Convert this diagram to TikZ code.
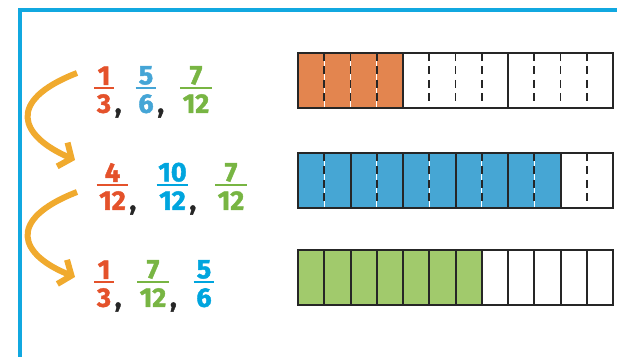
\documentclass[tikz,border=0pt]{standalone}
\usepackage{fontspec}
\setmainfont{Fira Sans}
\newfontfamily\numfont{Fira Sans}[FakeBold=1.6]
\usetikzlibrary{arrows.meta}

\definecolor{fracred}{HTML}{E4522B}
\definecolor{fracblue}{HTML}{45A5D6}
\definecolor{fraccyan}{HTML}{00A5DE}
\definecolor{fracgreen}{HTML}{78B543}
\definecolor{barorange}{HTML}{E3854F}
\definecolor{barblue}{HTML}{46A6D4}
\definecolor{bargreen}{HTML}{A1CA6C}
\definecolor{framecol}{HTML}{11A8E0}
\definecolor{arrowcol}{HTML}{F0AA2E}

\tikzset{
  digit/.style={font=\fontsize{27}{27}\selectfont\numfont\bfseries, inner xsep=2.5pt, inner ysep=0pt},
  comma/.style={font=\fontsize{27}{27}\selectfont\numfont\bfseries, anchor=base west, inner sep=0pt, text=black!85},
  swoop/.style={arrowcol, line width=6pt, -{Straight Barb[length=10pt,width=26pt]}},
  barline/.style={line width=2pt, draw=black!85},
  dashline/.style={line width=1.6pt, draw=black!85, dash pattern=on 8pt off 5.5pt},
}

% fraction: name, point of the bar, colour, numerator, denominator
\newcommand{\frc}[5]{%
  \coordinate (#1) at #2;
  \node[digit, text=#3, anchor=south] (#1n) at ([yshift=3pt]#1) {#4};
  \node[digit, text=#3, anchor=north] (#1d) at ([yshift=-6pt]#1) {#5};
  \draw[#3, line width=2.2pt] (#1d.west |- #1) -- (#1d.east |- #1);
}

\begin{document}
\begin{tikzpicture}[x=1pt,y=1pt]
    \useasboundingbox (0,0) rectangle (617,356);
    \draw[framecol, line width=4pt] (20,-5) -- (20,346) -- (625,346);   % frame

    % first bar: thirds, split in twelfths
    \fill[barorange] (298,248) rectangle ++(105,55);
    \foreach \i in {1,2,3} \draw[white, line width=1.4pt] ({298+26.25*\i},303) -- ++(0,-55);
    \foreach \i in {1,2,3,5,6,7,9,10,11} \draw[dashline] ({298+26.25*\i},303) -- ++(0,-55);
    \foreach \i in {4,8} \draw[barline] ({298+26.25*\i},303) -- ++(0,-55);
    \draw[barline, line width=2.5pt] (298,248) rectangle ++(315,55);

    % second bar: sixths, split in twelfths
    \fill[barblue] (298,148) rectangle ++(262.5,55);
    \foreach \i in {1,3,5,7,9} \draw[white, line width=1.4pt] ({298+26.25*\i},203) -- ++(0,-55);
    \foreach \i in {1,3,5,7,9,11} \draw[dashline] ({298+26.25*\i},203) -- ++(0,-55);
    \foreach \i in {2,4,6,8,10} \draw[barline] ({298+26.25*\i},203) -- ++(0,-55);
    \draw[barline, line width=2.5pt] (298,148) rectangle ++(315,55);

    % third bar: twelfths
    \fill[bargreen] (298,51) rectangle ++(183.75,55);
    \foreach \i in {1,...,11} \draw[barline] ({298+26.25*\i},106) -- ++(0,-55);
    \draw[barline, line width=2.5pt] (298,51) rectangle ++(315,55);

    % fractions
    \frc{a1}{(104,268)}{fracred}{1}{3}
    \frc{a2}{(146,268)}{fracblue}{5}{6}
    \frc{a3}{(196,268)}{fracgreen}{7}{12}
    \frc{b1}{(112.5,171)}{fracred}{4}{12}
    \frc{b2}{(172.5,171)}{fraccyan}{10}{12}
    \frc{b3}{(231,171)}{fracgreen}{7}{12}
    \frc{c1}{(104,74)}{fracred}{1}{3}
    \frc{c2}{(153,74)}{fracgreen}{7}{12}
    \frc{c3}{(204,74)}{fraccyan}{5}{6}
    \node[comma] (ka1) at ([xshift=1pt]a1d.base east) {,};
    \node[comma] (ka2) at ([xshift=1pt]a2d.base east) {,};
    \node[comma] (kb1) at ([xshift=1pt]b1d.base east) {,};
    \node[comma] (kb2) at ([xshift=1pt]b2d.base east) {,};
    \node[comma] (kc1) at ([xshift=1pt]c1d.base east) {,};
    \node[comma] (kc2) at ([xshift=1pt]c2d.base east) {,};

    % arrows between the rows
    \coordinate (s1) at (77,283);
    \coordinate (e1) at (75,196);
    \coordinate (s2) at (77,164);
    \coordinate (e2) at (75,79);
    \draw[swoop] (s1) .. controls (5,255) and (20,220) .. (e1);
    \draw[swoop] (s2) .. controls (5,136) and (20,101) .. (e2);
\end{tikzpicture}
\end{document}
